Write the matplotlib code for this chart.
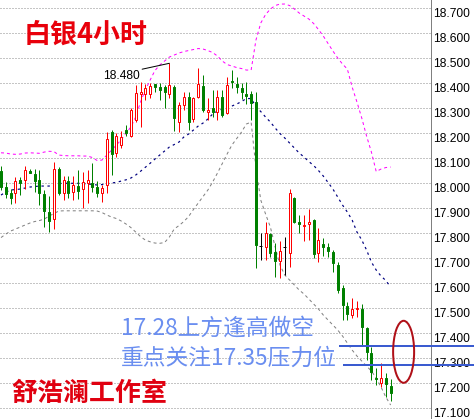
import numpy as np
import matplotlib
matplotlib.use('Agg')
import matplotlib.pyplot as plt
from matplotlib.patches import Rectangle, Ellipse
from matplotlib.transforms import ScaledTranslation

# ---------------- data ----------------
opens = [18.050, 17.986, 17.960, 17.960, 18.013, 18.013, 18.050, 18.037, 18.013, 17.957,
         17.885, 17.856, 18.056, 17.960, 18.009, 17.966, 17.989, 17.978, 18.000, 18.000,
         17.986, 17.960, 17.993, 18.205, 18.121, 18.153, 18.213, 18.189, 18.253, 18.357,
         18.357, 18.356, 18.396, 18.386, 18.385, 18.356, 18.386, 18.246, 18.313, 18.346,
         18.257, 18.346, 18.389, 18.286, 18.300, 18.286, 18.346, 18.280, 18.410, 18.396,
         18.380, 18.357, 18.357, 18.326, 17.750, 17.746, 17.797, 17.724, 17.690, 17.744,
         17.722, 17.942, 17.846, 17.831, 17.836, 17.853, 17.722, 17.757, 17.746, 17.726,
         17.673, 17.580, 17.509, 17.473, 17.497, 17.496, 17.420, 17.322, 17.220, 17.202,
         17.222, 17.189]
highs = [18.069, 18.006, 17.976, 18.026, 18.026, 18.069, 18.056, 18.056, 18.053, 17.973,
         17.949, 18.084, 18.066, 18.029, 18.029, 18.029, 18.053, 18.046, 18.053, 18.080,
         18.009, 17.993, 18.206, 18.213, 18.201, 18.209, 18.233, 18.300, 18.393, 18.406,
         18.397, 18.400, 18.396, 18.400, 18.393, 18.480, 18.393, 18.326, 18.366, 18.366,
         18.346, 18.460, 18.433, 18.340, 18.373, 18.373, 18.373, 18.426, 18.453, 18.426,
         18.402, 18.406, 18.370, 18.366, 17.800, 17.846, 17.800, 17.760, 17.770, 17.786,
         17.976, 17.946, 17.873, 17.873, 17.896, 17.856, 17.820, 17.780, 17.762, 17.733,
         17.685, 17.593, 17.526, 17.540, 17.530, 17.517, 17.426, 17.346, 17.260, 17.282,
         17.242, 17.216]
lows = [17.973, 17.940, 17.917, 17.922, 17.953, 17.976, 18.040, 17.966, 17.913, 17.827,
        17.806, 17.818, 17.953, 17.933, 17.940, 17.933, 17.936, 17.900, 17.922, 17.966,
        17.946, 17.926, 17.960, 18.033, 18.104, 18.140, 18.189, 18.185, 18.246, 18.226,
        18.333, 18.342, 18.364, 18.333, 18.301, 18.340, 18.209, 18.204, 18.293, 18.213,
        18.246, 18.342, 18.286, 18.253, 18.266, 18.253, 18.266, 18.276, 18.380, 18.360,
        18.336, 18.317, 18.253, 17.660, 17.693, 17.693, 17.706, 17.626, 17.620, 17.633,
        17.664, 17.842, 17.800, 17.770, 17.773, 17.700, 17.686, 17.709, 17.704, 17.647,
        17.560, 17.453, 17.453, 17.460, 17.466, 17.353, 17.293, 17.213, 17.193, 17.186,
        17.147, 17.130]
closes = [17.986, 17.957, 17.942, 18.010, 18.000, 18.053, 18.042, 18.010, 17.962, 17.890,
          17.850, 18.056, 17.962, 18.013, 17.962, 17.993, 17.970, 18.006, 18.013, 17.984,
          17.962, 17.980, 18.177, 18.117, 18.189, 18.185, 18.201, 18.293, 18.360, 18.364,
          18.381, 18.390, 18.386, 18.373, 18.365, 18.393, 18.260, 18.313, 18.344, 18.246,
          18.340, 18.396, 18.293, 18.293, 18.284, 18.346, 18.273, 18.393, 18.406, 18.386,
          18.366, 18.350, 18.322, 17.753, 17.750, 17.800, 17.722, 17.690, 17.730, 17.744,
          17.962, 17.846, 17.837, 17.835, 17.846, 17.716, 17.773, 17.744, 17.730, 17.682,
          17.573, 17.513, 17.477, 17.496, 17.502, 17.426, 17.327, 17.246, 17.216, 17.220,
          17.197, 17.160]

bb_upper = [18.122, 18.121, 18.117, 18.116, 18.117, 18.121, 18.122, 18.121, 18.120, 18.125,
            18.128, 18.127, 18.113, 18.111, 18.110, 18.110, 18.110, 18.109, 18.109, 18.103,
            18.091, 18.093, 18.113, 18.133, 18.153, 18.175, 18.201, 18.225, 18.265, 18.325,
            18.373, 18.413, 18.451, 18.473, 18.489, 18.505, 18.513, 18.521, 18.527, 18.531,
            18.535, 18.539, 18.537, 18.531, 18.523, 18.509, 18.489, 18.475, 18.469, 18.463,
            18.459, 18.453, 18.453, 18.573, 18.641, 18.675, 18.697, 18.711, 18.717, 18.717,
            18.711, 18.697, 18.681, 18.669, 18.657, 18.639, 18.615, 18.589, 18.559, 18.529,
            18.501, 18.477, 18.457, 18.385, 18.325, 18.261, 18.189, 18.125, 18.047, 18.057,
            18.063, 18.065]
bb_mid = [17.953, 17.965, 17.973, 17.975, 17.977, 17.981, 17.985, 17.987, 17.989, 17.989,
          17.989, 17.993, 17.999, 18.000, 18.000, 18.000, 18.000, 17.999, 17.997, 17.996,
          17.993, 17.995, 17.999, 18.001, 18.004, 18.009, 18.014, 18.021, 18.033, 18.048,
          18.064, 18.080, 18.097, 18.113, 18.129, 18.145, 18.155, 18.165, 18.185, 18.197,
          18.213, 18.229, 18.241, 18.257, 18.277, 18.289, 18.297, 18.303, 18.309, 18.317,
          18.327, 18.339, 18.339, 18.307, 18.287, 18.265, 18.245, 18.221, 18.199, 18.181,
          18.161, 18.141, 18.121, 18.105, 18.087, 18.071, 18.051, 18.029, 18.003, 17.977,
          17.945, 17.913, 17.885, 17.853, 17.805, 17.773, 17.733, 17.685, 17.653, 17.629,
          17.611, 17.585]
bb_lower = [17.783, 17.797, 17.809, 17.817, 17.825, 17.833, 17.841, 17.847, 17.851, 17.857,
            17.869, 17.879, 17.889, 17.890, 17.890, 17.890, 17.890, 17.890, 17.890, 17.890,
            17.889, 17.883, 17.873, 17.865, 17.859, 17.849, 17.837, 17.823, 17.805, 17.787,
            17.773, 17.766, 17.761, 17.760, 17.763, 17.785, 17.817, 17.831, 17.847, 17.867,
            17.895, 17.921, 17.947, 17.973, 18.005, 18.041, 18.079, 18.117, 18.153, 18.179,
            18.205, 18.237, 18.245, 18.061, 17.933, 17.877, 17.825, 17.745, 17.673, 17.633,
            17.613, 17.593, 17.573, 17.557, 17.537, 17.517, 17.497, 17.473, 17.453, 17.433,
            17.413, 17.389, 17.361, 17.333, 17.309, 17.289, 17.269, 17.249, 17.221, 17.185,
            17.145, 17.113]

tick_values = [17.1, 17.2, 17.3, 17.4, 17.5, 17.6, 17.7, 17.8, 17.9,
               18.0, 18.1, 18.2, 18.3, 18.4, 18.5, 18.6, 18.7]
title_text = '白银4小时'
peak_label = '18.480'
note_lines = ['17.28上方逢高做空', '重点关注17.35压力位']
resist_levels = [17.35, 17.275]
watermark = '舒浩澜工作室'

# ---------------- figure ----------------
DPI = 100
W, H = 474, 419
PX = 72.0 / DPI  # points per pixel
fig = plt.figure(figsize=(W / DPI, H / DPI), dpi=DPI, facecolor='white')
ax = fig.add_axes([0, 0, 430.7 / W, 1])
ax.set_facecolor('white')
ax.set_xlim(-0.21, 89.33)
ax.set_ylim(17.0572, 18.7332)

n = len(opens)
x = np.arange(n)

# grid
for v in tick_values:
    ax.axhline(v, color='#8c8c8c', lw=1 * PX, ls=(0, (1, 2)), zorder=0)

# bollinger bands
ax.plot(x, bb_upper, color='#ff00ff', lw=1 * PX, ls=(0, (3, 3)), zorder=1)
ax.plot(x, bb_mid, color='#000080', lw=1.2 * PX, ls=(0, (2, 3)), zorder=1)
ax.plot(x, bb_lower, color='#808080', lw=1 * PX, ls=(0, (3, 3)), zorder=1)

# candles
bw = 2.0 / 4.81
GREEN, RED = '#008000', '#ff0000'
for i in range(n):
    o, h, l, c = opens[i], highs[i], lows[i], closes[i]
    if c > o:
        col, fc = RED, 'white'
    elif c < o:
        col, fc = GREEN, GREEN
    else:
        col, fc = 'black', 'black'
    ax.vlines(i, l, h, color=col, lw=1 * PX, zorder=2)
    if c == o:
        ax.hlines(o, i - bw / 2 - 0.1, i + bw / 2 + 0.1, color=col, lw=1 * PX, zorder=3)
    else:
        ax.add_patch(Rectangle((i - bw / 2, min(o, c)), bw, abs(c - o),
                               facecolor=fc, edgecolor=col, lw=1 * PX, zorder=3))

# axes styling
for s in ['top', 'bottom', 'left']:
    ax.spines[s].set_visible(False)
ax.spines['right'].set_color('#808080')
ax.spines['right'].set_linewidth(1 * PX)
ax.set_xticks([])
ax.set_yticks([])
lab_tr = ax.get_yaxis_transform() + ScaledTranslation(2.6 / DPI, -9 / DPI, fig.dpi_scale_trans)
for v in tick_values:
    ax.text(1.0, v, f'{v:.3f}', transform=lab_tr, ha='left', va='baseline',
            fontsize=12 * PX, family='Liberation Sans', color='black')

# peak label
pk = int(np.argmax(highs))
ax.annotate(peak_label, xy=(pk, highs[pk]), xytext=(-30, -6.5), textcoords='offset pixels',
            ha='right', va='top', fontsize=12 * PX, family='Liberation Sans', color='black',
            arrowprops=dict(arrowstyle='-', color='black', lw=1 * PX, shrinkA=0, shrinkB=0,
                            relpos=(1, 1)), zorder=5)

# resistance lines
ytr = ax.get_yaxis_transform()
starts = [339.3 / 430.7, 342.7 / 430.7]
for lv, st in zip(resist_levels, starts):
    ax.plot([st, W / 430.7], [lv, lv], transform=ytr, color='#3a5bd0', lw=2 * PX,
            clip_on=False, zorder=6, solid_capstyle='butt')

# red ellipse
ax.add_patch(Ellipse((83.7, 17.326), width=21 / 4.81, height=62 / 250.0,
                     fill=False, edgecolor='#b01018', lw=2 * PX, zorder=6))

cjk = ['Noto Sans CJK SC', 'DejaVu Sans']
# title
fig.text(24 / W, 1 - 34.5 / H, title_text, ha='left', va='center', fontsize=27 * PX,
         family=cjk, fontweight='bold', color='#e8000b')
# notes
fig.text(121 / W, 1 - 328.5 / H, note_lines[0], ha='left', va='center', fontsize=22.7 * PX,
         family=cjk, color='#6a8ef0')
fig.text(121 / W, 1 - 358.3 / H, note_lines[1], ha='left', va='center', fontsize=22.7 * PX,
         family=cjk, color='#6a8ef0')
# watermark
fig.text(11 / W, 1 - 393.5 / H, watermark, ha='left', va='center', fontsize=26 * PX,
         family=cjk, fontweight='bold', color='#e00010')

fig.savefig('out.png', dpi=DPI, facecolor='white')
